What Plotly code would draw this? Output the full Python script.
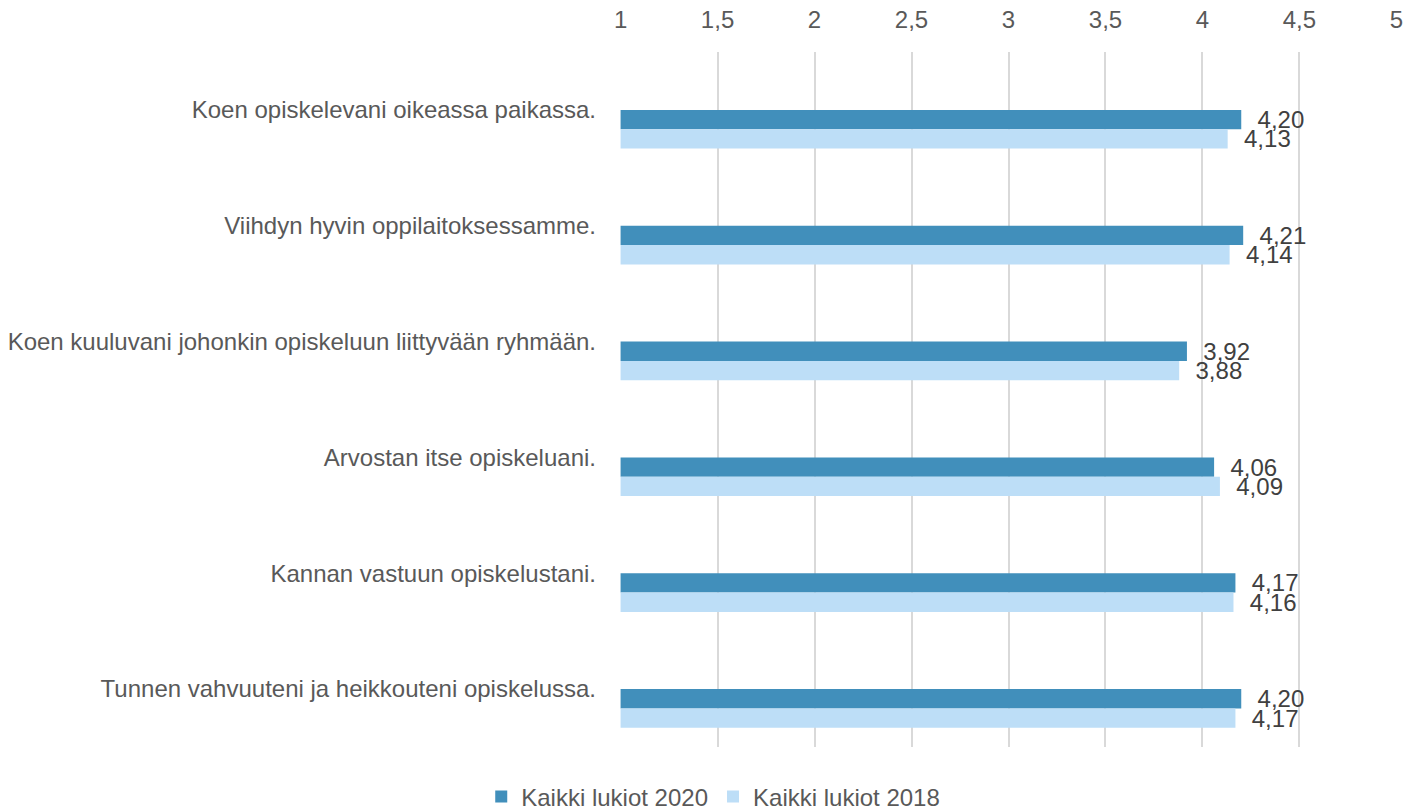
import plotly.graph_objects as go

statements = [
    "Koen opiskelevani oikeassa paikassa.",
    "Viihdyn hyvin oppilaitoksessamme.",
    "Koen kuuluvani johonkin opiskeluun liittyvään ryhmään.",
    "Arvostan itse opiskeluani.",
    "Kannan vastuun opiskelustani.",
    "Tunnen vahvuuteni ja heikkouteni opiskelussa.",
]
lukiot_2020 = [4.20, 4.21, 3.92, 4.06, 4.17, 4.20]
lukiot_2018 = [4.13, 4.14, 3.88, 4.09, 4.16, 4.17]

COLORS = {
    "dark": "#418FBB",
    "light": "#BDDEF7",
    "text": "#595959",
    "label": "#404040",
    "grid": "#D9D9D9",
}
FONT = "Liberation Sans, Arial, sans-serif"
BAR_W = 0.167

fig = go.Figure()
for name, vals, color, off in [
    ("Kaikki lukiot 2020", lukiot_2020, COLORS["dark"], 0.0),
    ("Kaikki lukiot 2018", lukiot_2018, COLORS["light"], BAR_W),
]:
    fig.add_trace(go.Bar(
        y=statements, x=[v - 1 for v in vals], base=1,
        name=name, orientation="h",
        marker=dict(color=color, line=dict(width=0)),
        width=BAR_W, offset=off,
        text=[f"{v:.2f}".replace(".", ",") for v in vals],
        texttemplate="\u00a0\u00a0%{text}",
        textposition="outside", constraintext="none", cliponaxis=False,
        textfont=dict(size=24, color=COLORS["label"], family=FONT),
        hoverinfo="skip",
    ))

fig.update_layout(
    width=1410, height=807,
    paper_bgcolor="white", plot_bgcolor="white",
    font=dict(family=FONT, size=24, color=COLORS["text"]),
    separators=", ",
    margin=dict(l=620, r=13, t=52, b=60, autoexpand=False),
    barmode="overlay",
    xaxis=dict(
        side="top", range=[0.997, 5.003], dtick=0.5, tick0=1,
        showgrid=True, gridcolor=COLORS["grid"], gridwidth=1.5,
        zeroline=False, showline=False, ticks="",
        tickfont=dict(size=24, color=COLORS["text"]),
        ticklabelstandoff=18, ticklabeloverflow="allow",
    ),
    yaxis=dict(
        autorange="reversed", showgrid=False, zeroline=False, ticks="",
        tickfont=dict(size=24, color=COLORS["text"]),
        ticklabelstandoff=23,
    ),
    showlegend=True,
    legend=dict(
        orientation="h", x=0.12, xanchor="center",
        y=-50 / 695, yanchor="middle",
        font=dict(size=24, color=COLORS["text"]), traceorder="normal",
    ),
)

# drop the default 8px page margin so the figure fills the window exactly
fig.write_html(
    "out.html",
    config={"displayModeBar": False},
    post_script="document.body.style.margin = '0';",
)
